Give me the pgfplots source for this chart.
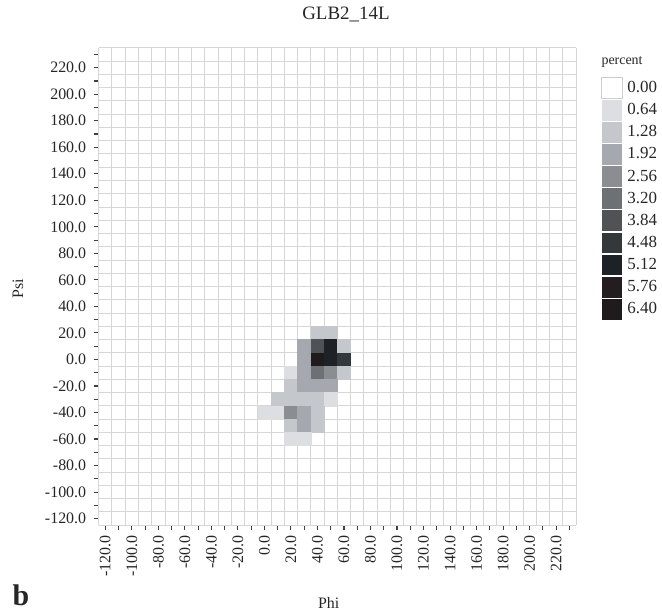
\documentclass[border=0pt]{standalone}
\usepackage{fontspec}
\setmainfont{Liberation Serif}
\usepackage{pgfplots}
\usepackage{pgfplotstable}
\pgfplotsset{compat=1.18}

% grey levels of the percent scale
\definecolor{c0}{HTML}{FFFFFF}
\definecolor{c1}{HTML}{DCDEE2}
\definecolor{c2}{HTML}{C4C7CC}
\definecolor{c3}{HTML}{A5A9AF}
\definecolor{c4}{HTML}{8A8E93}
\definecolor{c5}{HTML}{6E7174}
\definecolor{c6}{HTML}{4F5355}
\definecolor{c7}{HTML}{33383B}
\definecolor{c8}{HTML}{1D2226}
\definecolor{c9}{HTML}{241D20}
\definecolor{c10}{HTML}{1F1B1D}

% non-empty (phi,psi) bins, with their level
\pgfplotstableread{
phi psi lev
40  20  c2
50  20  c2
30  10  c3
40  10  c6
50  10  c8
60  10  c2
30   0  c3
40   0  c10
50   0  c8
60   0  c7
20 -10  c1
30 -10  c3
40 -10  c5
50 -10  c4
60 -10  c2
20 -20  c2
30 -20  c3
40 -20  c3
50 -20  c3
10 -30  c2
20 -30  c2
30 -30  c2
40 -30  c2
50 -30  c1
0  -40  c1
10 -40  c1
20 -40  c4
30 -40  c3
40 -40  c2
20 -50  c2
30 -50  c3
40 -50  c2
20 -60  c1
30 -60  c1
}\bins

\begin{document}
\begin{tikzpicture}[every node/.style={text=black!85}]
\begin{axis}[
  scale only axis, width=479pt, height=479pt,
  xmin=-125, xmax=235, ymin=-125, ymax=235,
  clip=false,
  axis x line*=bottom, axis y line*=left,
  axis line style={-, line width=1.2pt, black!75},
  xtick={-120,-100,...,220}, minor xtick={-110,-90,...,230},
  ytick={-120,-100,...,220}, minor ytick={-110,-90,...,230},
  tick align=outside, major tick length=5pt, minor tick length=5pt,
  tick style={black!75, line width=1.1pt},
  extra x ticks={-125,-115,...,235}, extra y ticks={-125,-115,...,235},
  extra x tick labels={}, extra y tick labels={},
  extra tick style={grid=major, major tick length=0pt},
  major grid style={draw=black!16, line width=0.9pt},
  xticklabel style={rotate=90, anchor=east, yshift=0pt, xshift=-2pt,
    font=\fontsize{16}{16}\selectfont,
    /pgf/number format/fixed, /pgf/number format/fixed zerofill,
    /pgf/number format/precision=1, /pgf/number format/assume math mode=true},
  yticklabel style={xshift=-4pt, font=\fontsize{16}{16}\selectfont,
    /pgf/number format/fixed, /pgf/number format/fixed zerofill,
    /pgf/number format/precision=1, /pgf/number format/assume math mode=true},
  title={GLB2\_14L},
  title style={at={(0.518,1.057)}, anchor=center, font=\fontsize{19}{19}\selectfont},
  xlabel={Phi}, ylabel={Psi},
  xlabel style={at={(0.482,-0.163)}, anchor=center, font=\fontsize{16}{16}\selectfont},
  ylabel style={at={(-0.169,0.495)}, anchor=center, font=\fontsize{16}{16}\selectfont},
  legend image code/.code={\filldraw[#1] (0pt,-10.9pt) rectangle (21pt,10.9pt);},
  legend style={at={(1.052,0.94)}, anchor=north west, draw=none, fill=none,
    inner sep=0pt, row sep=0pt, nodes={inner xsep=5pt, inner ysep=0pt},
    font=\fontsize{17}{17}\selectfont},
  legend cell align=left,
]
\addplot[scatter, only marks, forget plot, mark size=6.65pt,
  scatter src=explicit symbolic,
  scatter/classes={
    c1={mark=square*, fill=c1, draw=c1},
    c2={mark=square*, fill=c2, draw=c2},
    c3={mark=square*, fill=c3, draw=c3},
    c4={mark=square*, fill=c4, draw=c4},
    c5={mark=square*, fill=c5, draw=c5},
    c6={mark=square*, fill=c6, draw=c6},
    c7={mark=square*, fill=c7, draw=c7},
    c8={mark=square*, fill=c8, draw=c8},
    c9={mark=square*, fill=c9, draw=c9},
    c10={mark=square*, fill=c10, draw=c10}},
] table[x=phi, y=psi, meta=lev] {\bins};

\addlegendimage{fill=c0, draw=black!20}\addlegendentry{0.00}
\addlegendimage{fill=c1, draw=white}\addlegendentry{0.64}
\addlegendimage{fill=c2, draw=white}\addlegendentry{1.28}
\addlegendimage{fill=c3, draw=white}\addlegendentry{1.92}
\addlegendimage{fill=c4, draw=white}\addlegendentry{2.56}
\addlegendimage{fill=c5, draw=white}\addlegendentry{3.20}
\addlegendimage{fill=c6, draw=white}\addlegendentry{3.84}
\addlegendimage{fill=c7, draw=white}\addlegendentry{4.48}
\addlegendimage{fill=c8, draw=white}\addlegendentry{5.12}
\addlegendimage{fill=c9, draw=white}\addlegendentry{5.76}
\addlegendimage{fill=c10, draw=white}\addlegendentry{6.40}

\node[anchor=west, font=\fontsize{14}{14}\selectfont] at (rel axis cs:1.046,0.971) {percent};
\node[font=\bfseries\fontsize{30}{30}\selectfont] at (rel axis cs:-0.163,-0.146) {b};
\path (rel axis cs:-0.2067,-0.1816) rectangle (rel axis cs:1.1754,1.1002);
\end{axis}
\end{tikzpicture}
\end{document}
